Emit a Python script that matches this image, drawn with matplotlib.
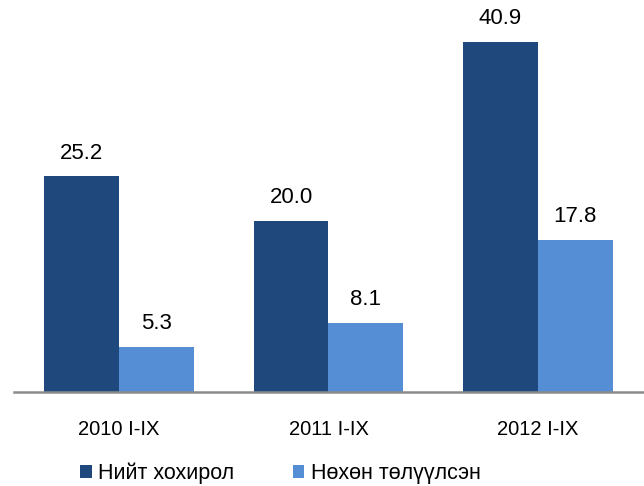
import matplotlib.pyplot as plt
import numpy as np

# Damage totals by period
categories = ['2010 I-IX', '2011 I-IX', '2012 I-IX']
total = [25.2, 20.0, 40.9]
recovered = [5.3, 8.1, 17.8]
series_names = ['Нийт хохирол', 'Нөхөн төлүүлсэн']

plt.rcParams['font.family'] = ['Liberation Sans', 'DejaVu Sans']

dark = '#1F497D'
light = '#558ED5'

fig = plt.figure(figsize=(6.44, 4.86), dpi=100)
ax = fig.add_axes([0.022, 0.193, 0.976, 0.793])

x = np.arange(len(categories))
w = 0.357

b1 = ax.bar(x - w / 2, total, w, color=dark, label=series_names[0])
b2 = ax.bar(x + w / 2, recovered, w, color=light, label=series_names[1])

for bars, vals in [(b1, total), (b2, recovered)]:
    for bar, v in zip(bars, vals):
        ax.annotate(f'{v:.1f}', (bar.get_x() + bar.get_width() / 2, v),
                    xytext=(0, 9), textcoords='offset points',
                    ha='center', va='bottom', fontsize=16)

ax.set_xlim(-0.5, 2.5)
ax.set_ylim(0, 45)
ax.set_xticks(x)
ax.set_xticklabels(categories, fontsize=14.5)
ax.tick_params(axis='x', length=0, pad=20)
ax.set_yticks([])
for s in ['top', 'right', 'left']:
    ax.spines[s].set_visible(False)
ax.spines['bottom'].set_color('#8C8C8C')
ax.spines['bottom'].set_linewidth(1.8)

fig.legend(loc='lower left', bbox_to_anchor=(80 / 644, 2 / 486), ncol=2, frameon=False,
           fontsize=15.5, handlelength=0.55, handleheight=0.55, handletextpad=0.3,
           columnspacing=2.7, borderpad=0, borderaxespad=0)

plt.savefig('out.png', dpi=100)
